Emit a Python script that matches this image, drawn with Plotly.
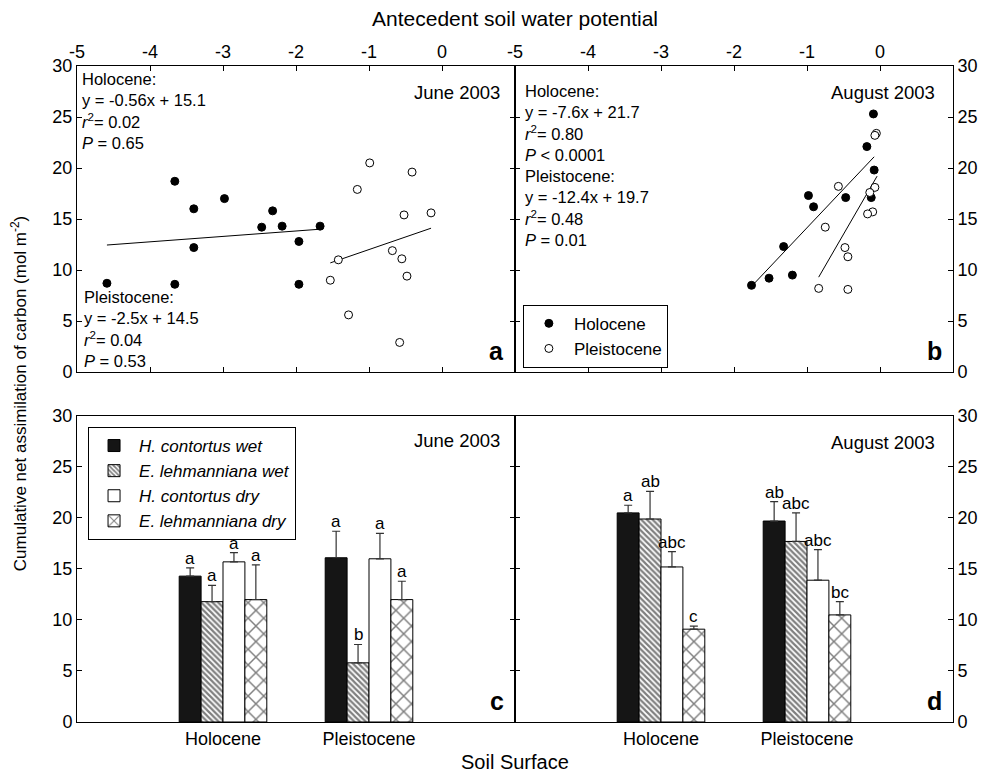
import plotly.graph_objects as go

# ---------------- DATA ----------------
# Panel a (June 2003) antecedent soil water potential vs cumulative assimilation
june_hol_x = [-4.59, -3.66, -3.40, -3.40, -3.66, -2.98, -2.32, -2.47, -2.19, -1.96, -1.96, -1.67]
june_hol_y = [8.7, 18.7, 16.0, 12.2, 8.6, 17.0, 15.8, 14.2, 14.3, 12.8, 8.6, 14.3]
june_ple_x = [-0.99, -0.41, -1.16, -0.52, -0.15, -0.68, -0.55, -1.42, -0.48, -1.53, -1.28, -0.58]
june_ple_y = [20.5, 19.6, 17.9, 15.4, 15.6, 11.9, 11.1, 11.0, 9.4, 9.0, 5.6, 2.9]
june_hol_fit_x = [-4.59, -1.67]
june_hol_fit_y = [12.45, 14.0]
june_ple_fit_x = [-1.53, -0.15]
june_ple_fit_y = [10.7, 14.1]

# Panel b (August 2003)
aug_hol_x = [-0.09, -0.18, -0.08, -0.98, -0.47, -0.12, -0.91, -1.32, -1.20, -1.52, -1.76]
aug_hol_y = [25.3, 22.1, 19.8, 17.3, 17.1, 17.1, 16.2, 12.3, 9.5, 9.2, 8.5]
aug_ple_x = [-0.05, -0.07, -0.57, -0.07, -0.14, -0.10, -0.17, -0.75, -0.48, -0.44, -0.84, -0.44]
aug_ple_y = [23.4, 23.2, 18.2, 18.1, 17.6, 15.7, 15.5, 14.2, 12.2, 11.3, 8.2, 8.1]
aug_hol_fit_x = [-1.72, -0.08]
aug_hol_fit_y = [8.7, 21.1]
aug_ple_fit_x = [-0.84, -0.04]
aug_ple_fit_y = [9.3, 19.2]

# Bar panels
categories = ["Holocene", "Pleistocene"]
series_names = ["H. contortus wet", "E. lehmanniana wet", "H. contortus dry", "E. lehmanniana dry"]
june_means = [[14.3, 16.1], [11.8, 5.8], [15.7, 16.0], [12.0, 12.0]]
june_err = [[0.8, 2.6], [1.6, 1.8], [0.9, 2.5], [3.4, 1.8]]
june_letters = [["a", "a"], ["a", "b"], ["a", "a"], ["a", "a"]]
aug_means = [[20.5, 19.7], [19.9, 17.7], [15.2, 13.9], [9.1, 10.5]]
aug_err = [[0.75, 1.9], [2.7, 2.8], [1.5, 3.0], [0.3, 1.3]]
aug_letters = [["a", "ab"], ["ab", "abc"], ["abc", "abc"], ["c", "bc"]]

y_ticks = [0, 5, 10, 15, 20, 25, 30]
x_ticks = [-5, -4, -3, -2, -1, 0]
x_tick_text = ["-5", "-4", "-3", "-2", "-1", "0"]

# ---------------- STYLE ----------------
FONT = "Liberation Sans"
fills = ["#151515", "white", "white", "white"]
patterns = [
    dict(shape=""),
    dict(shape="\\", fgcolor="black", bgcolor="white", size=4, solidity=0.55),
    dict(shape=""),
    dict(shape="x", fgcolor="black", bgcolor="white", size=11, solidity=0.25),
]

fig = go.Figure()

def scatter_panel(xa, ya, hx, hy, px, py, hfx, hfy, pfx, pfy, show):
    fig.add_trace(go.Scatter(x=hfx, y=hfy, mode="lines", line=dict(color="black", width=1),
                             xaxis=xa, yaxis=ya, showlegend=False, hoverinfo="skip"))
    fig.add_trace(go.Scatter(x=pfx, y=pfy, mode="lines", line=dict(color="black", width=1),
                             xaxis=xa, yaxis=ya, showlegend=False, hoverinfo="skip"))
    fig.add_trace(go.Scatter(x=hx, y=hy, mode="markers", name="Holocene",
                             marker=dict(color="black", size=8, line=dict(color="black", width=1)),
                             xaxis=xa, yaxis=ya, showlegend=show, legend="legend"))
    fig.add_trace(go.Scatter(x=px, y=py, mode="markers", name="Pleistocene",
                             marker=dict(color="white", size=8, line=dict(color="black", width=1)),
                             xaxis=xa, yaxis=ya, showlegend=show, legend="legend"))

scatter_panel("x", "y", june_hol_x, june_hol_y, june_ple_x, june_ple_y,
              june_hol_fit_x, june_hol_fit_y, june_ple_fit_x, june_ple_fit_y, False)
scatter_panel("x2", "y2", aug_hol_x, aug_hol_y, aug_ple_x, aug_ple_y,
              aug_hol_fit_x, aug_hol_fit_y, aug_ple_fit_x, aug_ple_fit_y, True)

offsets = [-0.225, -0.075, 0.075, 0.225]

def bar_panel(xa, ya, means, errs, letters, show, xref, yref):
    for j in range(4):
        fig.add_trace(go.Bar(
            x=categories, y=means[j], name="<i>" + series_names[j] + "</i>",
            marker=dict(color=fills[j], line=dict(color="black", width=1), pattern=patterns[j]),
            error_y=dict(type="data", symmetric=False, array=errs[j], arrayminus=[0, 0],
                         color="#333333", thickness=1.2, width=4),
            xaxis=xa, yaxis=ya, showlegend=show, legend="legend2"))
        for i in range(2):
            fig.add_annotation(x=i + offsets[j], y=means[j][i] + errs[j][i], xref=xref, yref=yref,
                               text=letters[j][i], showarrow=False, yanchor="bottom", yshift=-2,
                               font=dict(size=17, color="black", family=FONT))

bar_panel("x3", "y3", june_means, june_err, june_letters, True, "x3", "y3")
bar_panel("x4", "y4", aug_means, aug_err, aug_letters, False, "x4", "y4")

# ---------------- LAYOUT ----------------
top = [0.5335, 1.0]
bot = [0.0, 0.4665]
TICKFONT = dict(size=18, color="black", family=FONT)
ax_common = dict(showline=True, linecolor="black", linewidth=1, mirror="ticks", ticks="inside",
                 ticklen=5, tickcolor="black", zeroline=False, showgrid=False, tickfont=TICKFONT)
yax = dict(ax_common, range=[0, 30], tickvals=y_ticks)
xsc = dict(ax_common, range=[-5, 1], tickvals=x_ticks, ticktext=x_tick_text, side="top")
xcat = dict(showline=True, linecolor="black", linewidth=1, mirror=True, ticks="", zeroline=False,
            showgrid=False, range=[-1, 2], tickfont=TICKFONT)

fig.update_layout(
    width=992, height=772,
    margin=dict(l=77, r=39, t=66, b=50),
    paper_bgcolor="white", plot_bgcolor="white",
    font=dict(family=FONT, color="black", size=16),
    barmode="group", bargap=0.4, bargroupgap=0,
    xaxis=dict(xsc, domain=[0, 0.5], anchor="y"),
    yaxis=dict(yax, domain=top, anchor="x", side="left"),
    xaxis2=dict(xsc, domain=[0.5, 1], anchor="y2"),
    yaxis2=dict(yax, domain=top, anchor="x2", side="right"),
    xaxis3=dict(xcat, domain=[0, 0.5], anchor="y3"),
    yaxis3=dict(yax, domain=bot, anchor="x3", side="left"),
    xaxis4=dict(xcat, domain=[0.5, 1], anchor="y4"),
    yaxis4=dict(yax, domain=bot, anchor="x4", side="right"),
    legend=dict(x=0.509, y=0.636, xanchor="left", yanchor="top", bordercolor="black",
                borderwidth=1, bgcolor="white", font=dict(size=17, family=FONT),
                tracegroupgap=0, itemwidth=40),
    legend2=dict(x=0.0126, y=0.4497, xanchor="left", yanchor="top", bordercolor="black",
                 borderwidth=1, bgcolor="white", font=dict(size=17, family=FONT),
                 tracegroupgap=0, itemwidth=40, traceorder="normal"),
)

def note(text, x, y, xref, yref, xanchor="left", yanchor="top", size=16, align="left"):
    fig.add_annotation(text=text, x=x, y=y, xref=xref, yref=yref, xanchor=xanchor,
                       yanchor=yanchor, showarrow=False, align=align,
                       font=dict(size=size, family=FONT, color="black"))

# stats text
note("Holocene:<br>y = -0.56x + 15.1<br><i>r</i><sup>2</sup>= 0.02<br><i>P</i> = 0.65",
     0.006, 0.995, "x domain", "y domain", size=16.5)
note("Pleistocene:<br>y = -2.5x + 14.5<br><i>r</i><sup>2</sup>= 0.04<br><i>P</i> = 0.53",
     0.012, 0.28, "x domain", "y domain", size=16.5)
note("Holocene:<br>y = -7.6x + 21.7<br><i>r</i><sup>2</sup>= 0.80<br><i>P</i> &lt; 0.0001",
     0.018, 0.955, "x2 domain", "y2 domain", size=16.5)
note("Pleistocene:<br>y = -12.4x + 19.7<br><i>r</i><sup>2</sup>= 0.48<br><i>P</i> = 0.01",
     0.018, 0.675, "x2 domain", "y2 domain", size=16.5)

# month labels
note("June 2003", 0.97, 0.915, "x domain", "y domain", "right", "middle", 18.5)
note("August 2003", 0.963, 0.912, "x2 domain", "y2 domain", "right", "middle", 18.5)
note("June 2003", 0.97, 0.92, "x3 domain", "y3 domain", "right", "middle", 18.5)
note("August 2003", 0.963, 0.912, "x4 domain", "y4 domain", "right", "middle", 18.5)

# panel letters
for lab, xr, yr in [("a", "x", "y"), ("b", "x2", "y2"), ("c", "x3", "y3"), ("d", "x4", "y4")]:
    note("<b>" + lab + "</b>", 0.98, 0.068, xr + " domain", yr + " domain", "right", "middle", 25)

# axis titles
note("Antecedent soil water potential", 0.5, 1.073, "paper", "paper", "center", "middle", 21)
note("Soil Surface", 0.5, -0.061, "paper", "paper", "center", "middle", 20)
fig.add_annotation(text="Cumulative net assimilation of carbon (mol m<sup>-2</sup>)",
                   x=-0.066, y=0.5, xref="paper", yref="paper", textangle=-90,
                   showarrow=False, xanchor="center", yanchor="middle",
                   font=dict(size=17, family=FONT, color="black"))

fig.write_html("out.html")
